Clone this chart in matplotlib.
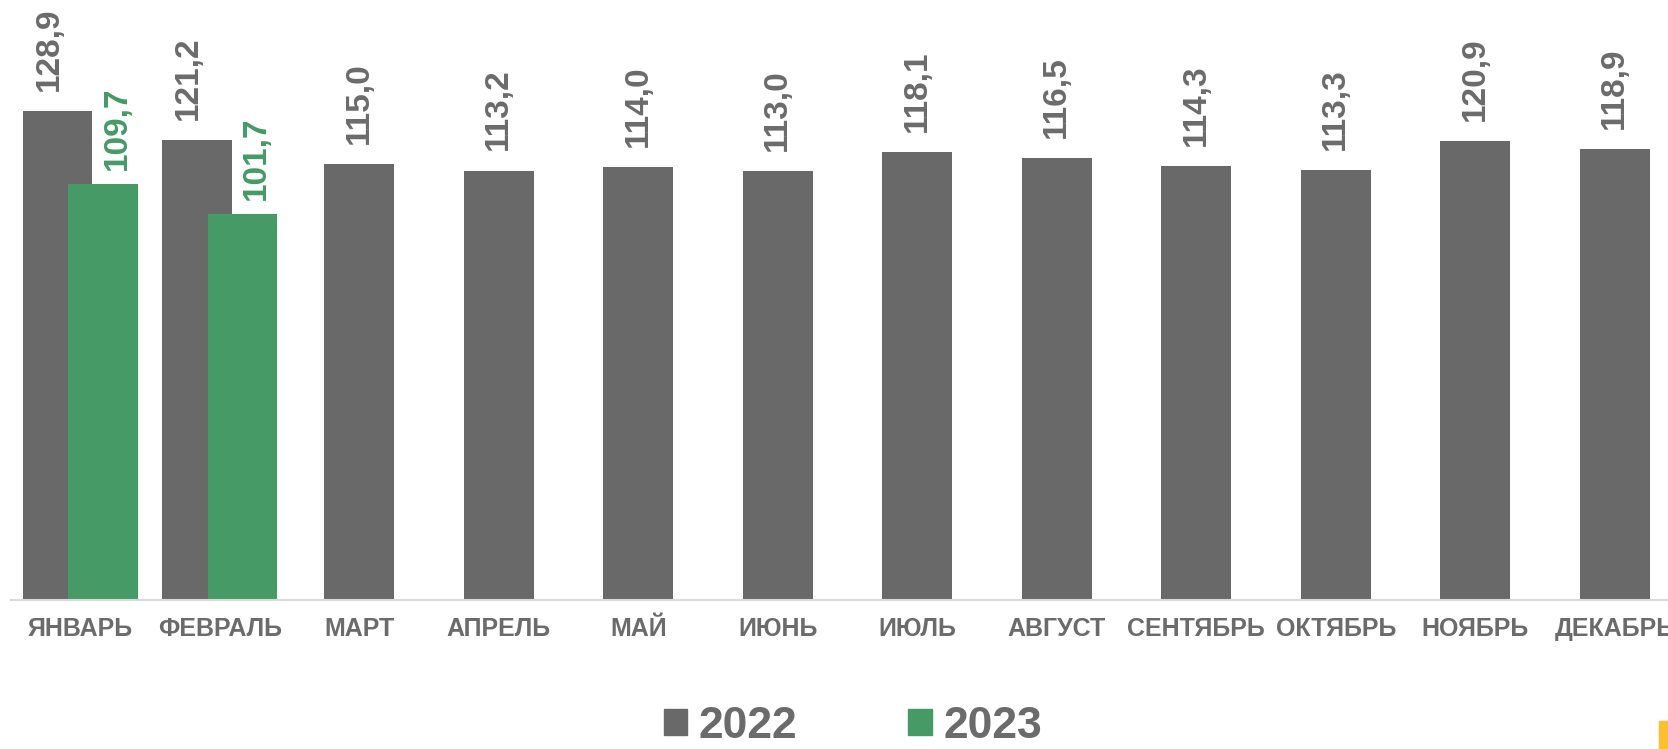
import numpy as np
import matplotlib.pyplot as plt
from matplotlib.patches import Patch, Rectangle

plt.rcParams['font.family'] = ['Liberation Sans', 'DejaVu Sans']

# Data
months = ['ЯНВАРЬ', 'ФЕВРАЛЬ', 'МАРТ', 'АПРЕЛЬ', 'МАЙ', 'ИЮНЬ', 'ИЮЛЬ',
          'АВГУСТ', 'СЕНТЯБРЬ', 'ОКТЯБРЬ', 'НОЯБРЬ', 'ДЕКАБРЬ']
values_2022 = [128.9, 121.2, 115.0, 113.2, 114.0, 113.0, 118.1, 116.5, 114.3, 113.3, 120.9, 118.9]
values_2023 = [109.7, 101.7]

gray = '#696969'
green = '#459a66'
text_gray = '#6b6b6b'
yellow = '#fdbf2d'

W, H = 1668, 749
fig = plt.figure(figsize=(W / 100, H / 100), dpi=100)

# axes spans slightly past the right edge, like the cropped original
ax = fig.add_axes([10.5 / W, 149 / H, 1674 / W, 600 / H])

x = np.arange(len(months))
bw = 0.5
off = 0.163

paired = x < len(values_2023)
x22 = x - off * paired
ax.bar(x22, values_2022, width=bw, color=gray, zorder=2)
x23 = x[:len(values_2023)] + off
ax.bar(x23, values_2023, width=bw, color=green, zorder=3)

# value labels
for i, v in enumerate(values_2022):
    dx = -6 if paired[i] else 0
    ax.annotate(f"{v:.1f}".replace('.', ','), (x22[i], v), xytext=(dx, 14.5),
                textcoords='offset points', rotation=90, ha='center', va='bottom',
                fontsize=24, fontweight='bold', color=text_gray)
for i, v in enumerate(values_2023):
    ax.annotate(f"{v:.1f}".replace('.', ','), (x23[i], v), xytext=(10, 10),
                textcoords='offset points', rotation=90, ha='center', va='bottom',
                fontsize=24, fontweight='bold', color=green)

ax.set_xlim(-0.5, len(months) - 0.5)
ax.set_ylim(0, 600 / 3.794)
ax.set_xticks(x)
ax.set_xticklabels(months, fontsize=18, fontweight='bold', color=text_gray)
ax.tick_params(axis='x', length=0, pad=12)
ax.set_yticks([])
for s in ['top', 'right', 'left']:
    ax.spines[s].set_visible(False)
ax.spines['bottom'].set_color('#d9d9d9')
ax.spines['bottom'].set_linewidth(1.5)
ax.spines['bottom'].set_zorder(4)

# legend
handles = [Patch(color=gray, label='2022'), Patch(color=green, label='2023')]
fig.legend(handles=handles, loc='center', bbox_to_anchor=(853 / W, 1 - 726 / H),
           ncol=2, frameon=False, handlelength=0.52, handleheight=0.52,
           handletextpad=0.27, columnspacing=2.5, labelcolor=text_gray,
           prop={'size': 32, 'weight': 'bold'})

# cropped third legend marker at the right edge
fig.patches.append(Rectangle((1659 / W, 0), 20 / W, 28 / H, transform=fig.transFigure,
                             color=yellow, zorder=5))

fig.savefig('out.png', dpi=100)
